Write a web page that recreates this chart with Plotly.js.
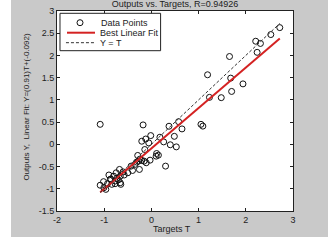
<!DOCTYPE html>
<html>
<head>
<meta charset="utf-8">
<script src="https://cdn.plot.ly/plotly-3.0.1.min.js"></script>
<style>
html,body{margin:0;padding:0;background:#ffffff;width:328px;height:244px;overflow:hidden;}
#chart{position:absolute;left:11px;top:0px;width:317px;height:237px;}
</style>
</head>
<body>
<div id="chart"></div>
<script>
// Data points (Targets T, Outputs Y)
const targetsT = [2.72, 2.53, 2.21, 2.31, 2.24, 1.655, 1.19, 1.68, 1.94, 1.70, 1.23, 1.48,
  -1.085, -0.176, 1.05, 1.09, 0.373, 0.577, 0.648, 0.486, 0.528, 0.40, 0.30, 0.18, 0.26,
  -0.014, -0.12, -0.204, -0.056, -0.14, 0.11, 0.148, 0.10, -0.028, -0.29, -0.204, -0.155,
  -0.11, -0.254, -0.43, -0.40, -0.50, -0.577, -0.676, -0.66, -0.73, -0.80, -0.87, -0.77,
  -0.66, -0.648, -0.77, -0.84, -0.93, -1.014, -1.085, -0.965, -1.007, -0.746, -0.90, -0.345,
  -0.275, -0.24, -0.31, -0.60, -0.70, -0.86];
const outputsY = [2.626, 2.47, 2.32, 2.27, 2.07, 1.976, 1.565, 1.49, 1.36, 1.19, 1.057, 1.05,
  0.45, 0.437, 0.45, 0.41, 0.407, 0.51, 0.347, 0.18, -0.057, -0.01, -0.49, 0.16, 0.055,
  0.197, 0.12, 0.07, 0.033, -0.117, -0.206, -0.244, -0.266, -0.356, -0.25, -0.363, -0.378,
  -0.415, -0.565, -0.49, -0.588, -0.64, -0.69, -0.565, -0.715, -0.77, -0.715, -0.79, -0.827,
  -0.864, -0.90, -0.886, -0.90, -0.886, -0.84, -0.92, -1.013, -0.976, -0.64, -0.69, -0.45,
  -0.378, -0.33, -0.40, -0.62, -0.80, -0.78];

// Best linear fit endpoints (Y = 0.91 T - 0.092) and identity line endpoints
const fitT = [-1.085, 2.72];
const fitY = [-1.08, 2.38];
const idT = [-1.085, 2.72];
const idY = [-1.085, 2.72];

const xTicks = [-2, -1, 0, 1, 2, 3];
const yTicks = [-1.5, -1, -0.5, 0, 0.5, 1, 1.5, 2, 2.5, 3];
const xTickText = ['-2', '-1', '0', '1', '2', '3'];
const yTickText = ['-1.5', '-1', '-0.5', '0', '0.5', '1', '1.5', '2', '2.5', '3'];

const seriesNames = ['Data Points', 'Best Linear Fit', 'Y = T'];
const titleText = 'Outputs vs. Targets, R=0.94926';
const xTitle = 'Targets T';
const yTitle = 'Outputs Y,  Linear Fit: Y=(0.91)T+(-0.092)';

const FONT = 'Liberation Sans, Arial, sans-serif';
const TXT = '#222';
const RED = '#d42222';

const traces = [
  {x: targetsT, y: outputsY, mode: 'markers', type: 'scatter', name: seriesNames[0],
   marker: {symbol: 'circle-open', size: 6, color: '#111', line: {width: 1, color: '#111'}}},
  {x: fitT, y: fitY, mode: 'lines', type: 'scatter', name: seriesNames[1],
   line: {color: RED, width: 2}},
  {x: idT, y: idY, mode: 'lines', type: 'scatter', name: seriesNames[2],
   line: {color: '#333', width: 1, dash: '3px,2px'}}
];

const axisCommon = {
  showline: true, linecolor: TXT, linewidth: 1, mirror: 'ticks',
  ticks: 'inside', ticklen: 3, tickcolor: TXT, showgrid: false, zeroline: false,
  tickfont: {family: FONT, size: 9, color: TXT}
};

// Legend drawn by hand (paper coordinates of plot area)
const rowY = [0.9415, 0.8915, 0.8415];
const textX = 0.172;
const shapes = [
  {type: 'rect', xref: 'paper', yref: 'paper', x0: 0.0127, x1: 0.439, y0: 0.8015, y1: 0.9885,
   fillcolor: '#ffffff', line: {color: TXT, width: 1}},
  {type: 'circle', xref: 'paper', yref: 'paper', x0: 0.0848, x1: 0.1102, y0: rowY[0] - 0.015, y1: rowY[0] + 0.015,
   line: {color: '#111', width: 1}},
  {type: 'line', xref: 'paper', yref: 'paper', x0: 0.0424, x1: 0.161, y0: rowY[1], y1: rowY[1],
   line: {color: RED, width: 2}},
  {type: 'line', xref: 'paper', yref: 'paper', x0: 0.038, x1: 0.157, y0: rowY[2], y1: rowY[2],
   line: {color: '#333', width: 1, dash: '3px,2px'}}
];
const annotations = [
  {text: seriesNames[0], xref: 'paper', yref: 'paper', x: 0.178, y: rowY[0], xanchor: 'left', yanchor: 'middle', showarrow: false,
   font: {family: FONT, size: 9, color: TXT}},
  {text: seriesNames[1], xref: 'paper', yref: 'paper', x: textX, y: rowY[1], xanchor: 'left', yanchor: 'middle', showarrow: false,
   font: {family: FONT, size: 9, color: TXT}},
  {text: seriesNames[2], xref: 'paper', yref: 'paper', x: textX, y: rowY[2], xanchor: 'left', yanchor: 'middle', showarrow: false,
   font: {family: FONT, size: 9, color: TXT}},
  {text: xTitle, xref: 'paper', yref: 'paper', x: 0.487, y: -0.09, xanchor: 'center', yanchor: 'middle', showarrow: false,
   font: {family: FONT, size: 9, color: TXT}},
  {text: yTitle, xref: 'paper', yref: 'paper', x: -0.133, y: 0.52, xanchor: 'center', yanchor: 'middle', textangle: -90,
   showarrow: false, font: {family: FONT, size: 8, color: TXT}}
];

const layout = {
  width: 317, height: 237,
  margin: {l: 46, r: 35, t: 11, b: 26, pad: 0},
  paper_bgcolor: '#c9c9c9', plot_bgcolor: '#ffffff',
  font: {family: FONT, size: 9, color: TXT},
  title: {text: titleText, font: {family: FONT, size: 9, color: TXT},
          xref: 'paper', x: 0.5, xanchor: 'center', yref: 'container', y: 0.985, yanchor: 'middle'},
  xaxis: Object.assign({}, axisCommon, {range: [-2, 3], tickvals: xTicks, ticktext: xTickText}),
  yaxis: Object.assign({}, axisCommon, {range: [-1.5, 3], tickvals: yTicks, ticktext: yTickText}),
  showlegend: false,
  shapes: shapes,
  annotations: annotations
};

Plotly.newPlot('chart', traces, layout, {displayModeBar: false, staticPlot: true});
</script>
</body>
</html>
